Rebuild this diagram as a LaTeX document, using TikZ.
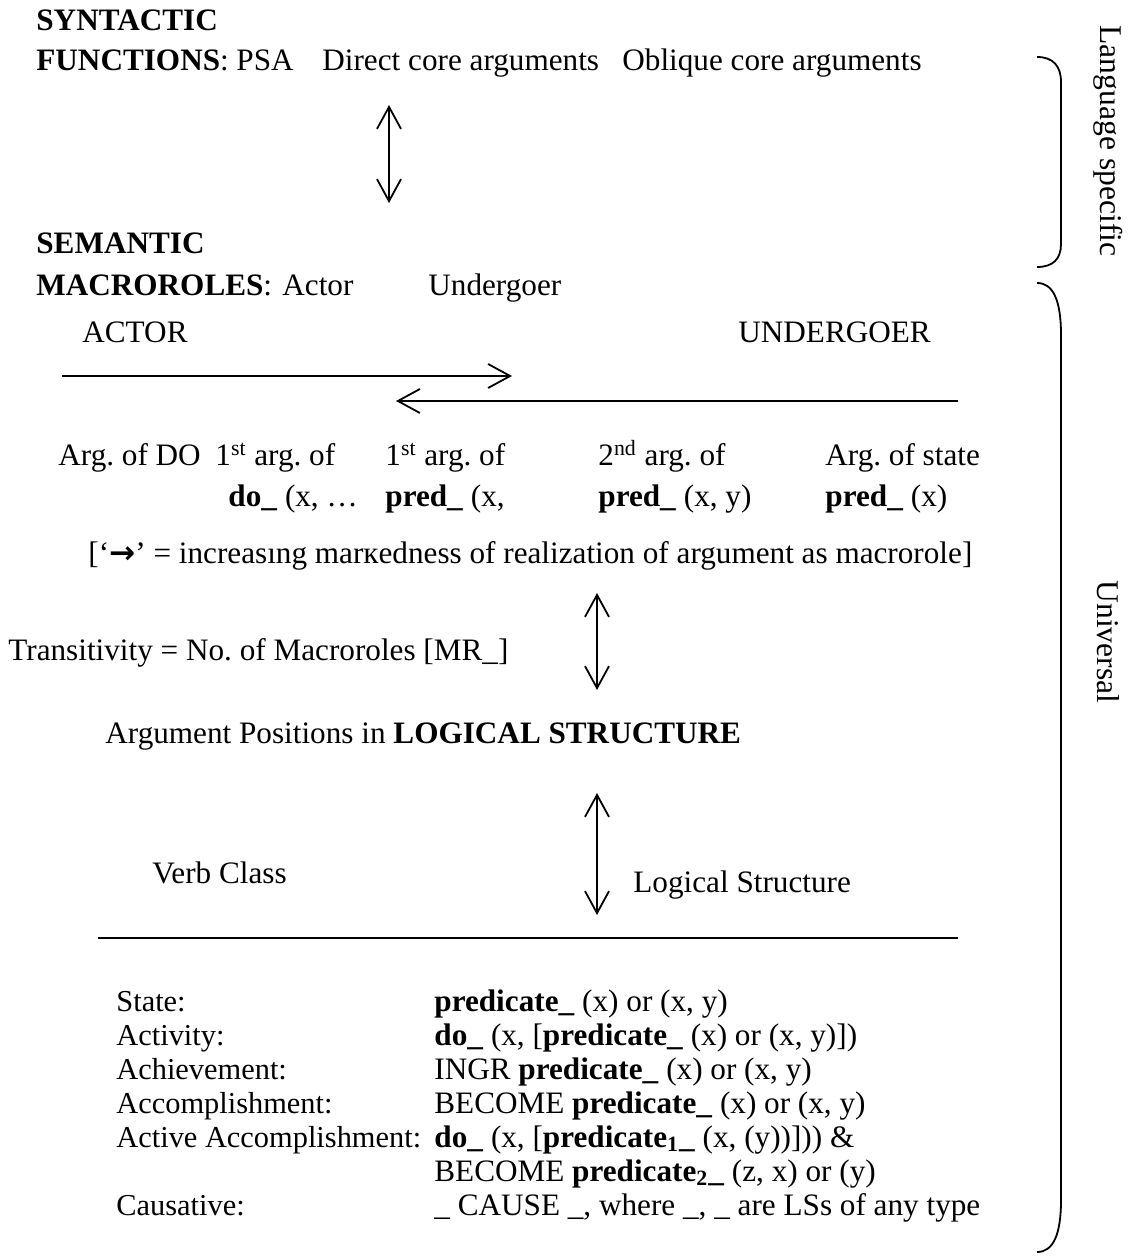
\documentclass[tikz,border=0pt]{standalone}
\usepackage{fontspec}
\setmainfont{Liberation Serif}
\newfontfamily\arrfont{DejaVu Sans}
\usetikzlibrary{arrows.meta}
\newcommand{\headbf}[1]{{\fontsize{15.6}{17}\selectfont\bfseries #1}}

\begin{document}
\frenchspacing
\begin{tikzpicture}[x=0.5pt,y=-0.5pt,
  txt/.style={anchor=base west,inner sep=0pt,font=\fontsize{15.6}{19}\selectfont},
  cls/.style={txt,font=\fontsize{15.2}{19}\selectfont},
  side/.style={inner sep=0pt,rotate=-90,font=\fontsize{15.8}{19}\selectfont},
  dbl/.style={{Straight Barb[length=11pt,width=12pt]}-{Straight Barb[length=11pt,width=12pt]},line width=0.9pt},
  sgl/.style={-{Straight Barb[length=11pt,width=12pt]},line width=0.9pt},
  brk/.style={line width=0.9pt}]
  \useasboundingbox (0,0) rectangle (1138,1256);
  % syntactic functions
  \node[txt] (synt) at (36,31) {\headbf{SYNTACTIC}};
  \node[txt] (func) at (36,71) {\headbf{FUNCTIONS}:};
  \node[txt] (psa) at (236,71) {PSA};
  \node[txt] (dca) at (322,71) {Direct core arguments};
  \node[txt] (oca) at (622,71) {Oblique core arguments};
  \coordinate (sfTop) at (389,105);
  \coordinate (sfBot) at (389,203);
  \draw[dbl] (sfTop) -- (sfBot);
  % semantic macroroles
  \node[txt] (sem) at (36,254) {\headbf{SEMANTIC}};
  \node[txt] (macro) at (36,296) {\headbf{MACROROLES}:};
  \node[txt] (actor) at (282,296) {Actor};
  \node[txt] (under) at (428,296) {Undergoer};
  % continuum
  \node[txt] (ACT) at (82,343) {ACTOR};
  \node[txt] (UND) at (738,343) {UNDERGOER};
  \coordinate (hA) at (62,376);
  \coordinate (hB) at (512,376);
  \coordinate (hC) at (958,401);
  \coordinate (hD) at (396,401);
  \draw[sgl] (hA) -- (hB);
  \draw[sgl] (hC) -- (hD);
  \node[txt] (arg1) at (58,466) {Arg. of DO};
  \node[txt] (arg2) at (215,466) {1\textsuperscript{st} arg. of};
  \node[txt] (arg3) at (385,466) {1\textsuperscript{st} arg. of};
  \node[txt] (arg4) at (598,466) {2\textsuperscript{nd} arg. of};
  \node[txt] (arg5) at (825,466) {Arg. of state};
  \node[txt] (ls2) at (228,506) {\textbf{do\_} (x, …};
  \node[txt] (ls3) at (385,506) {\textbf{pred\_} (x,};
  \node[txt] (ls4) at (598,506) {\textbf{pred\_} (x, y)};
  \node[txt] (ls5) at (825,506) {\textbf{pred\_} (x)};
  \node[txt] (mark) at (88,563) {[‘{\arrfont\bfseries →}’ = increasıng marкedness of realization of argument as macrorole]};
  % transitivity
  \coordinate (trTop) at (597,593);
  \coordinate (trBot) at (597,690);
  \draw[dbl] (trTop) -- (trBot);
  \node[txt] (trans) at (8,660) {Transitivity = No. of Macroroles [MR\_]};
  \node[txt] (argpos) at (105,743) {Argument Positions in \textbf{LOGICAL STRUCTURE}};
  \coordinate (lsTop) at (597,793);
  \coordinate (lsBot) at (597,915);
  \draw[dbl] (lsTop) -- (lsBot);
  \node[txt] (vclass) at (152,883) {Verb Class};
  \node[txt] (lstr) at (633,892) {Logical Structure};
  \coordinate (ruleL) at (98,938);
  \coordinate (ruleR) at (958,938);
  \draw[line width=0.9pt] (ruleL) -- (ruleR);
  % verb classes
  \node[cls] (c1) at (116,1011) {State:};
  \node[txt] (f1) at (434,1011) {\textbf{predicate\_} (x) or (x, y)};
  \node[cls] (c2) at (116,1045) {Activity:};
  \node[txt] (f2) at (434,1045) {\textbf{do\_} (x, [\textbf{predicate\_} (x) or (x, y)])};
  \node[cls] (c3) at (116,1079) {Achievement:};
  \node[txt] (f3) at (434,1079) {INGR \textbf{predicate\_} (x) or (x, y)};
  \node[cls] (c4) at (116,1113) {Accomplishment:};
  \node[txt] (f4) at (434,1113) {BECOME \textbf{predicate\_} (x) or (x, y)};
  \node[cls] (c5) at (116,1147) {Active Accomplishment:};
  \node[txt] (f5) at (434,1147) {\textbf{do\_} (x, [\textbf{predicate\textsubscript{1}\_} (x, (y))])) \&};
  \node[txt] (f6) at (434,1181) {BECOME \textbf{predicate\textsubscript{2}\_} (z, x) or (y)};
  \node[cls] (c7) at (116,1215) {Causative:};
  \node[txt] (f7) at (434,1215) {\_ CAUSE \_, where \_, \_ are LSs of any type};
  % brackets
  \coordinate (lsA) at (1037,57);
  \coordinate (lsB) at (1037,267);
  \draw[brk] (lsA) .. controls (1053,57) and (1061,66) .. (1061,82) -- (1061,244) .. controls (1061,259) and (1053,267) .. (lsB);
  \node[side] (langspec) at (1108,141) {Language specific};
  \coordinate (unA) at (1037,283);
  \coordinate (unB) at (1037,1252);
  \draw[brk] (unA) .. controls (1053,283) and (1061,300) .. (1061,335) -- (1061,1200) .. controls (1061,1235) and (1053,1252) .. (unB);
  \node[side] (univ) at (1108,642) {Universal};
\end{tikzpicture}
\end{document}
